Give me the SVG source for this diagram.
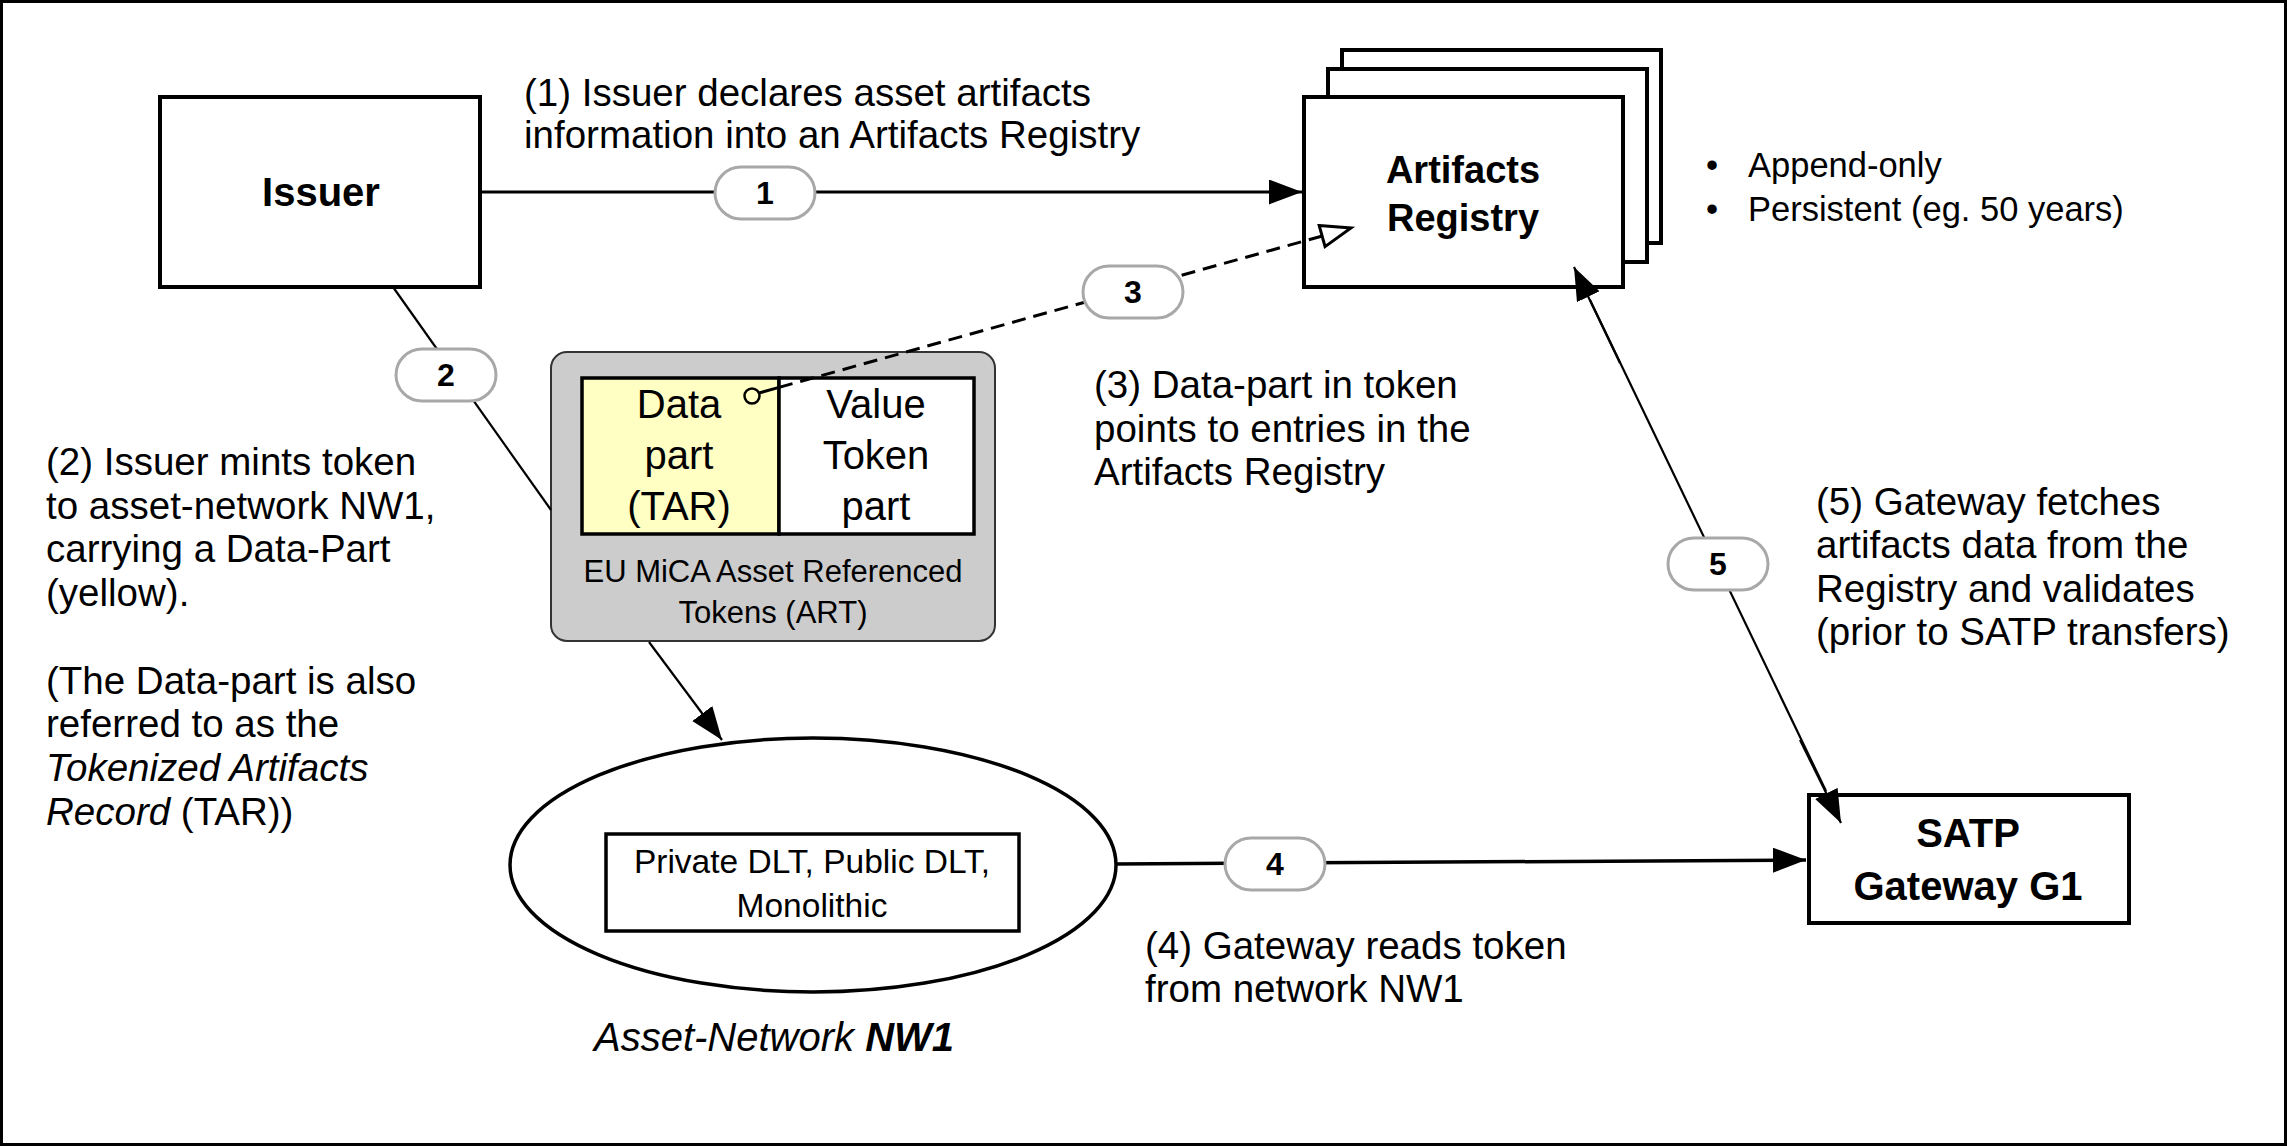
<svg xmlns="http://www.w3.org/2000/svg" width="2287" height="1146" viewBox="0 0 2287 1146">
<defs>
<style>
text{font-family:"Liberation Sans",Arial,Helvetica,sans-serif;fill:#000}
.box{fill:#fff;stroke:#000;stroke-width:4}
.note{font-size:38.5px}
.bold{font-weight:bold}
.pill rect{fill:#fff;stroke:#a8a8a8;stroke-width:3}
.pill text{font-size:32px;font-weight:bold;text-anchor:middle}
.c{text-anchor:middle}
.ln{fill:none;stroke:#000}
</style>
<marker id="ah" markerUnits="userSpaceOnUse" markerWidth="34" markerHeight="26" refX="33" refY="12.5" orient="auto">
<path d="M0,0 L33,12.5 L0,25 z" fill="#000"/>
</marker>
<marker id="aho" markerUnits="userSpaceOnUse" markerWidth="36" markerHeight="28" refX="32" refY="13" orient="auto">
<path d="M2,2 L32,13 L2,24 z" fill="#fff" stroke="#000" stroke-width="3"/>
</marker>
</defs>
<rect x="1.5" y="1.5" width="2284" height="1143" fill="#fff" stroke="#000" stroke-width="3"/>

<g id="issuer">
<rect class="box" x="160" y="97" width="320" height="190"/>
<text class="bold c" x="321" y="206" font-size="40">Issuer</text>
</g>

<g id="registry">
<rect class="box" x="1342" y="50" width="319" height="193"/>
<rect class="box" x="1328" y="69" width="319" height="193"/>
<rect class="box" x="1304" y="97" width="319" height="190"/>
<text class="bold c" x="1463" y="183" font-size="38">Artifacts</text>
<text class="bold c" x="1463" y="231" font-size="38">Registry</text>
</g>

<g id="registry-notes">
<text x="1706" y="177" font-size="34.5">•</text>
<text x="1748" y="177" font-size="34.5">Append-only</text>
<text x="1706" y="221" font-size="34.5">•</text>
<text x="1748" y="221" font-size="34.5">Persistent (eg. 50 years)</text>
</g>

<g id="token">
<rect x="551" y="352" width="444" height="289" rx="16" fill="#cccccc" stroke="#333" stroke-width="2"/>
<rect x="582" y="378" width="197" height="156" fill="#ffffc4" stroke="#000" stroke-width="3.5"/>
<rect x="779" y="378" width="195" height="156" fill="#fff" stroke="#000" stroke-width="3.5"/>
<text class="c" x="679" y="418" font-size="40">Data</text>
<text class="c" x="679" y="469" font-size="40">part</text>
<text class="c" x="679" y="520" font-size="40">(TAR)</text>
<text class="c" x="876" y="418" font-size="40">Value</text>
<text class="c" x="876" y="469" font-size="40">Token</text>
<text class="c" x="876" y="520" font-size="40">part</text>
<circle cx="752" cy="396" r="7.5" fill="#ffffc4" stroke="#000" stroke-width="2.5"/>
<text class="c" x="773" y="582" font-size="31">EU MiCA Asset Referenced</text>
<text class="c" x="773" y="623" font-size="31">Tokens (ART)</text>
</g>

<g id="network">
<ellipse cx="813" cy="865" rx="303" ry="127" fill="#fff" stroke="#000" stroke-width="3.5"/>
<rect x="606" y="834" width="413" height="97" fill="#fff" stroke="#000" stroke-width="3.5"/>
<text class="c" x="812" y="873" font-size="33.5">Private DLT, Public DLT,</text>
<text class="c" x="812" y="917" font-size="33.5">Monolithic</text>
<text x="594" y="1051" font-size="40" font-style="italic">Asset-Network <tspan font-weight="bold">NW1</tspan></text>
</g>

<g id="gateway">
<rect class="box" x="1809" y="795" width="320" height="128"/>
<text class="bold c" x="1968" y="847" font-size="40">SATP</text>
<text class="bold c" x="1968" y="900" font-size="40">Gateway G1</text>
</g>

<g id="notes">
<text class="note" x="524" y="106">(1) Issuer declares asset artifacts</text>
<text class="note" x="524" y="148">information into an Artifacts Registry</text>
<text class="note" x="46" y="475">(2) Issuer mints token</text>
<text class="note" x="46" y="519">to asset-network NW1,</text>
<text class="note" x="46" y="562">carrying a Data-Part</text>
<text class="note" x="46" y="606">(yellow).</text>
<text class="note" x="46" y="694">(The Data-part is also</text>
<text class="note" x="46" y="737">referred to as the</text>
<text class="note" x="46" y="781" font-style="italic">Tokenized Artifacts</text>
<text class="note" x="46" y="825"><tspan font-style="italic">Record</tspan> (TAR))</text>
<text class="note" x="1094" y="398">(3) Data-part in token</text>
<text class="note" x="1094" y="442">points to entries in the</text>
<text class="note" x="1094" y="485">Artifacts Registry</text>
<text class="note" x="1145" y="959">(4) Gateway reads token</text>
<text class="note" x="1145" y="1002">from network NW1</text>
<text class="note" x="1816" y="515">(5) Gateway fetches</text>
<text class="note" x="1816" y="558">artifacts data from the</text>
<text class="note" x="1816" y="602">Registry and validates</text>
<text class="note" x="1816" y="645">(prior to SATP transfers)</text>
</g>

<g id="connectors">
<line class="ln" x1="480" y1="192" x2="1302" y2="192" stroke-width="3" marker-end="url(#ah)"/>
<line class="ln" x1="393" y1="287" x2="551" y2="510" stroke-width="2.2"/>
<line class="ln" x1="649" y1="642" x2="722" y2="740" stroke-width="2.2" marker-end="url(#ah)"/>
<line class="ln" x1="759" y1="393" x2="779" y2="387.4" stroke-width="3"/>
<line class="ln" x1="779" y1="387.4" x2="1351" y2="228" stroke-width="3" stroke-dasharray="14 8" marker-end="url(#aho)"/>
<line class="ln" x1="1115" y1="864" x2="1806" y2="860" stroke-width="3.5" marker-end="url(#ah)"/>
<line class="ln" x1="1590" y1="300" x2="1826" y2="791" stroke-width="2.2"/>
<line class="ln" x1="1620" y1="363" x2="1574" y2="267" stroke-width="2.2" marker-end="url(#ah)"/>
<line class="ln" x1="1800" y1="740" x2="1841" y2="823" stroke-width="2.2" marker-end="url(#ah)"/>
<g class="pill"><rect x="715" y="167" width="100" height="52" rx="26"/><text x="765" y="204">1</text></g>
<g class="pill"><rect x="396" y="349" width="100" height="52" rx="26"/><text x="446" y="386">2</text></g>
<g class="pill"><rect x="1083" y="266" width="100" height="52" rx="26"/><text x="1133" y="303">3</text></g>
<g class="pill"><rect x="1225" y="838" width="100" height="52" rx="26"/><text x="1275" y="875">4</text></g>
<g class="pill"><rect x="1668" y="538" width="100" height="52" rx="26"/><text x="1718" y="575">5</text></g>
</g>
</svg>
